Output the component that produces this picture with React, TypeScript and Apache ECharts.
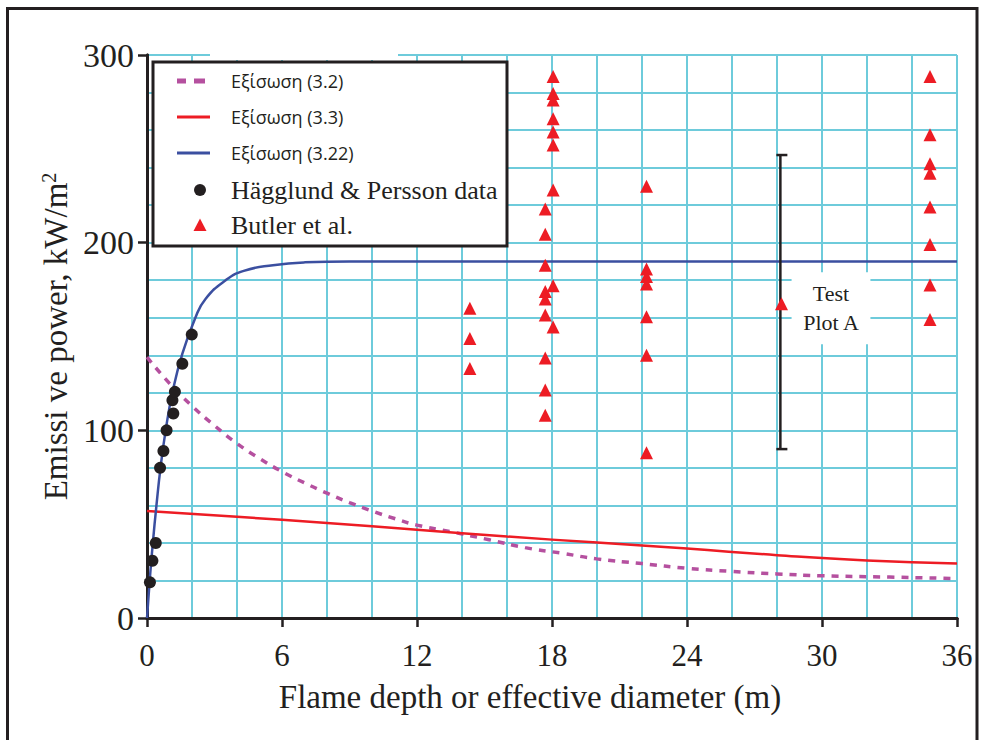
import React, { useEffect, useRef } from "react";
import * as echarts from "echarts";

// ---- data ----
const xTicks = [0, 6, 12, 18, 24, 30, 36];
const yTicks = [0, 100, 200, 300];

const eq32X = [0, 1, 2, 3, 4, 5, 6, 7, 8, 9, 10, 11, 12, 13.5, 15.2, 16.8, 18.5, 20, 22, 24, 26, 28, 30, 33, 36];
const eq32Y = [139, 125, 113, 102.5, 93, 85, 78, 72, 66.5, 61.5, 57, 53, 49.5, 46, 41.7, 37.5, 34.4, 31.5, 29, 26.5, 24.8, 23.5, 22.5, 21.8, 21];

const eq33X = [0, 4, 8, 12, 16, 20, 24, 28, 32, 36];
const eq33Y = [57, 53.9, 50.6, 47, 43.4, 40.2, 37, 33.5, 30.7, 29];

const eq322X = [0, 0.12, 0.26, 0.42, 0.6, 0.83, 1.13, 1.55, 2.15, 2.6, 3.5, 4.3, 5.6, 7, 9, 12, 20, 36];
const eq322Y = [0, 20, 40, 60, 80, 100, 120, 140, 160, 170, 180, 185, 188, 189.5, 190, 190, 190, 190];

const hpX = [0.13, 0.24, 0.39, 0.58, 0.73, 0.87, 1.13, 1.17, 1.24, 1.57, 1.99];
const hpY = [19, 30.5, 40, 80, 89, 100, 116, 109, 120.5, 135.5, 151];

const butlerX = [
  14.35, 14.35, 14.35,
  18.05, 18.05, 18.05, 18.05, 18.05, 18.05, 18.05, 17.7, 17.7, 17.7, 18.05, 17.7, 17.7, 17.7, 18.05, 17.7, 17.7, 17.7,
  22.2, 22.2, 22.2, 22.2, 22.2, 22.2, 22.2,
  28.2,
  34.8, 34.8, 34.8, 34.8, 34.8, 34.8, 34.8, 34.8,
];
const butlerY = [
  165, 149, 133,
  288.5, 279.5, 276, 266, 259, 252, 228, 218, 204.5, 188, 177, 174, 170, 161.5, 155, 138.5, 121.5, 108,
  230, 186, 182, 178, 160.5, 140, 88,
  167.5,
  288.5, 257.5, 242, 237, 219, 199, 177.5, 159,
];

// Test Plot A range bar: [x, low, high]
const testPlotRange = [28.15, 90, 246.7];
const testPlotLabelPos = [30.4, 165];
const testPlotLabel = "Test\nPlot A";

const seriesNames = ["Εξίσωση (3.2)", "Εξίσωση (3.3)", "Εξίσωση (3.22)", "Hägglund & Persson data", "Butler et al."];

const INK = "#231f20";
const GRID = "#6ecbdb";
const C32 = "#b5509f";
const C33 = "#ed1c24";
const C322 = "#3b4fa0";
const CBUT = "#ed1c24";
const SERIF = "'Liberation Serif', 'Times New Roman', serif";
const SANS = "'Open Sans', 'Noto Sans', sans-serif";

// legend icons (33x14 boxes; leading moveTo points fix the box)
const ICON_DASH = "path://M0,0M33,14M0,4.5h9v5h-9zM17,4.5h11v5h-11z";
const ICON_LINE = "path://M0,0M33,14M0,5.5h33v3h-33z";
const ICON_DOT = "path://M0,0M33,14M29,7A6,6,0,1,1,17,7A6,6,0,1,1,29,7Z";
const ICON_TRI = "path://M0,0M33,14M23,0.5L29.5,13L16.5,13Z";

const zip = (xs: number[], ys: number[]) => xs.map((x, i) => [x, ys[i]]);

export default function App() {
  const ref = useRef<HTMLDivElement>(null);
  useEffect(() => {
    if (!ref.current) return;
    const chart = echarts.init(ref.current, null, { renderer: "svg" });
    const axisCommonHidden = {
      axisTick: { show: false },
      axisLabel: { show: false },
      splitLine: { show: false },
      axisLine: { show: true, lineStyle: { color: INK, width: 3 } },
    };
    const sansText = { fontFamily: SANS, fontSize: 18, color: INK, padding: [0, 0, 0, 16] };
    const serifText = { fontFamily: SERIF, fontSize: 26, color: INK, padding: [0, 0, 0, 16] };
    chart.setOption({
      animation: false,
      backgroundColor: "#ffffff",
      grid: { left: 147, right: 28, top: 55, bottom: 122, containLabel: false, outerBoundsMode: "none" },
      xAxis: [
        {
          type: "value",
          min: 0,
          max: 36,
          interval: 6,
          name: "Flame depth or effective diameter (m)",
          nameLocation: "middle",
          nameGap: 62,
          nameTextStyle: { fontFamily: SERIF, fontSize: 33, color: INK, padding: [0, 44, 0, 0] },
          axisLine: { show: true, onZero: false, lineStyle: { color: INK, width: 3 } },
          axisTick: { show: true, inside: false, length: 9, lineStyle: { color: INK, width: 2.5 } },
          axisLabel: {
            fontFamily: SERIF,
            fontSize: 31,
            color: INK,
            margin: 22,
            formatter: (v: number) => (xTicks.includes(v) ? String(v) : ""),
          },
          splitLine: { show: true, lineStyle: { color: GRID, width: 2 } },
          minorTick: { show: false, splitNumber: 3 },
          minorSplitLine: { show: true, lineStyle: { color: GRID, width: 2 } },
        },
        { type: "value", min: 0, max: 36, position: "top", ...axisCommonHidden },
      ],
      yAxis: [
        {
          type: "value",
          min: 0,
          max: 300,
          interval: 100,
          name: "Emissi ve power, kW/m{sup|2}",
          nameLocation: "middle",
          nameGap: 65,
          nameTextStyle: {
            fontFamily: SERIF,
            fontSize: 33,
            color: INK,
            rich: { sup: { fontFamily: SERIF, fontSize: 20, color: INK, padding: [0, 0, 14, 0] } },
          },
          axisLine: { show: true, onZero: false, lineStyle: { color: INK, width: 3 } },
          axisTick: { show: true, inside: false, length: 9, lineStyle: { color: INK, width: 2.5 } },
          axisLabel: {
            fontFamily: SERIF,
            fontSize: 34,
            color: INK,
            margin: 13,
            formatter: (v: number) => (yTicks.includes(v) ? String(v) : ""),
          },
          splitLine: { show: true, lineStyle: { color: GRID, width: 2 } },
          minorTick: { show: false, splitNumber: 5 },
          minorSplitLine: { show: true, lineStyle: { color: GRID, width: 2 } },
        },
        { type: "value", min: 0, max: 300, position: "right", ...axisCommonHidden },
      ],
      legend: [
        {
          show: true,
          orient: "vertical",
          left: 177,
          top: 71,
          padding: 0,
          itemGap: 16,
          itemWidth: 33,
          itemHeight: 14,
          z: 10,
          textStyle: { ...sansText, lineHeight: 20 },
          data: [
            { name: seriesNames[0], icon: ICON_DASH },
            { name: seriesNames[1], icon: ICON_LINE },
            { name: seriesNames[2], icon: ICON_LINE },
          ],
        },
        {
          show: true,
          orient: "vertical",
          left: 177,
          top: 177,
          padding: 0,
          itemGap: 9,
          itemWidth: 33,
          itemHeight: 14,
          z: 10,
          textStyle: serifText,
          data: [
            { name: seriesNames[3], icon: ICON_DOT },
            { name: seriesNames[4], icon: ICON_TRI },
          ],
        },
      ],
      graphic: [
        {
          type: "rect",
          z: 9,
          shape: { x: 153, y: 62, width: 354, height: 184 },
          style: { fill: "#ffffff", stroke: INK, lineWidth: 3 },
        },
        {
          type: "rect",
          z: 20,
          shape: { x: 210, y: 44, width: 188, height: 16 },
          style: { fill: "#ffffff" },
        },
        {
          type: "rect",
          z: 20,
          shape: { x: 7.5, y: 8.5, width: 969.5, height: 800 },
          style: { fill: "none", stroke: INK, lineWidth: 3 },
        },
      ],
      series: [
        {
          name: seriesNames[0],
          type: "line",
          data: zip(eq32X, eq32Y),
          symbol: "none",
          smooth: 0.5,
          lineStyle: { color: C32, width: 3.5, type: [7, 7] },
          itemStyle: { color: C32 },
          z: 3,
        },
        {
          name: seriesNames[1],
          type: "line",
          data: zip(eq33X, eq33Y),
          symbol: "none",
          smooth: 0.5,
          lineStyle: { color: C33, width: 2.5 },
          itemStyle: { color: C33 },
          z: 3,
        },
        {
          name: seriesNames[2],
          type: "line",
          data: zip(eq322X, eq322Y),
          symbol: "none",
          smooth: 0.5,
          lineStyle: { color: C322, width: 2.5 },
          itemStyle: { color: C322 },
          z: 3,
        },
        {
          name: "testPlotA",
          type: "custom",
          data: [testPlotRange],
          z: 4,
          renderItem: (_params: any, api: any) => {
            const x = api.value(0);
            const lo = api.coord([x, api.value(1)]);
            const hi = api.coord([x, api.value(2)]);
            const st = { stroke: INK, lineWidth: 2.5 };
            return {
              type: "group",
              children: [
                { type: "line", shape: { x1: lo[0], y1: lo[1], x2: hi[0], y2: hi[1] }, style: st },
                { type: "line", shape: { x1: lo[0] - 4, y1: lo[1], x2: lo[0] + 7, y2: lo[1] }, style: st },
                { type: "line", shape: { x1: hi[0] - 4, y1: hi[1], x2: hi[0] + 7, y2: hi[1] }, style: st },
              ],
            };
          },
        },
        {
          name: "testPlotLabel",
          type: "custom",
          data: [testPlotLabelPos],
          z: 4,
          renderItem: (_params: any, api: any) => {
            const p = api.coord([api.value(0), api.value(1)]);
            return {
              type: "text",
              x: p[0],
              y: p[1],
              style: {
                text: testPlotLabel,
                fill: INK,
                font: `22px ${SERIF}`,
                align: "center",
                verticalAlign: "middle",
                lineHeight: 29,
                backgroundColor: "#ffffff",
                padding: [7, 11],
              },
            };
          },
        },
        {
          name: seriesNames[3],
          type: "scatter",
          data: zip(hpX, hpY),
          symbol: "circle",
          symbolSize: 12,
          itemStyle: { color: INK, opacity: 1 },
          z: 5,
        },
        {
          name: seriesNames[4],
          type: "scatter",
          data: zip(butlerX, butlerY),
          symbol: "triangle",
          symbolSize: 13,
          itemStyle: { color: CBUT, opacity: 1 },
          z: 5,
        },
      ],
    });
    return () => chart.dispose();
  }, []);
  return <div ref={ref} style={{ position: "absolute", left: 0, top: 0, width: 985, height: 740 }} />;
}
